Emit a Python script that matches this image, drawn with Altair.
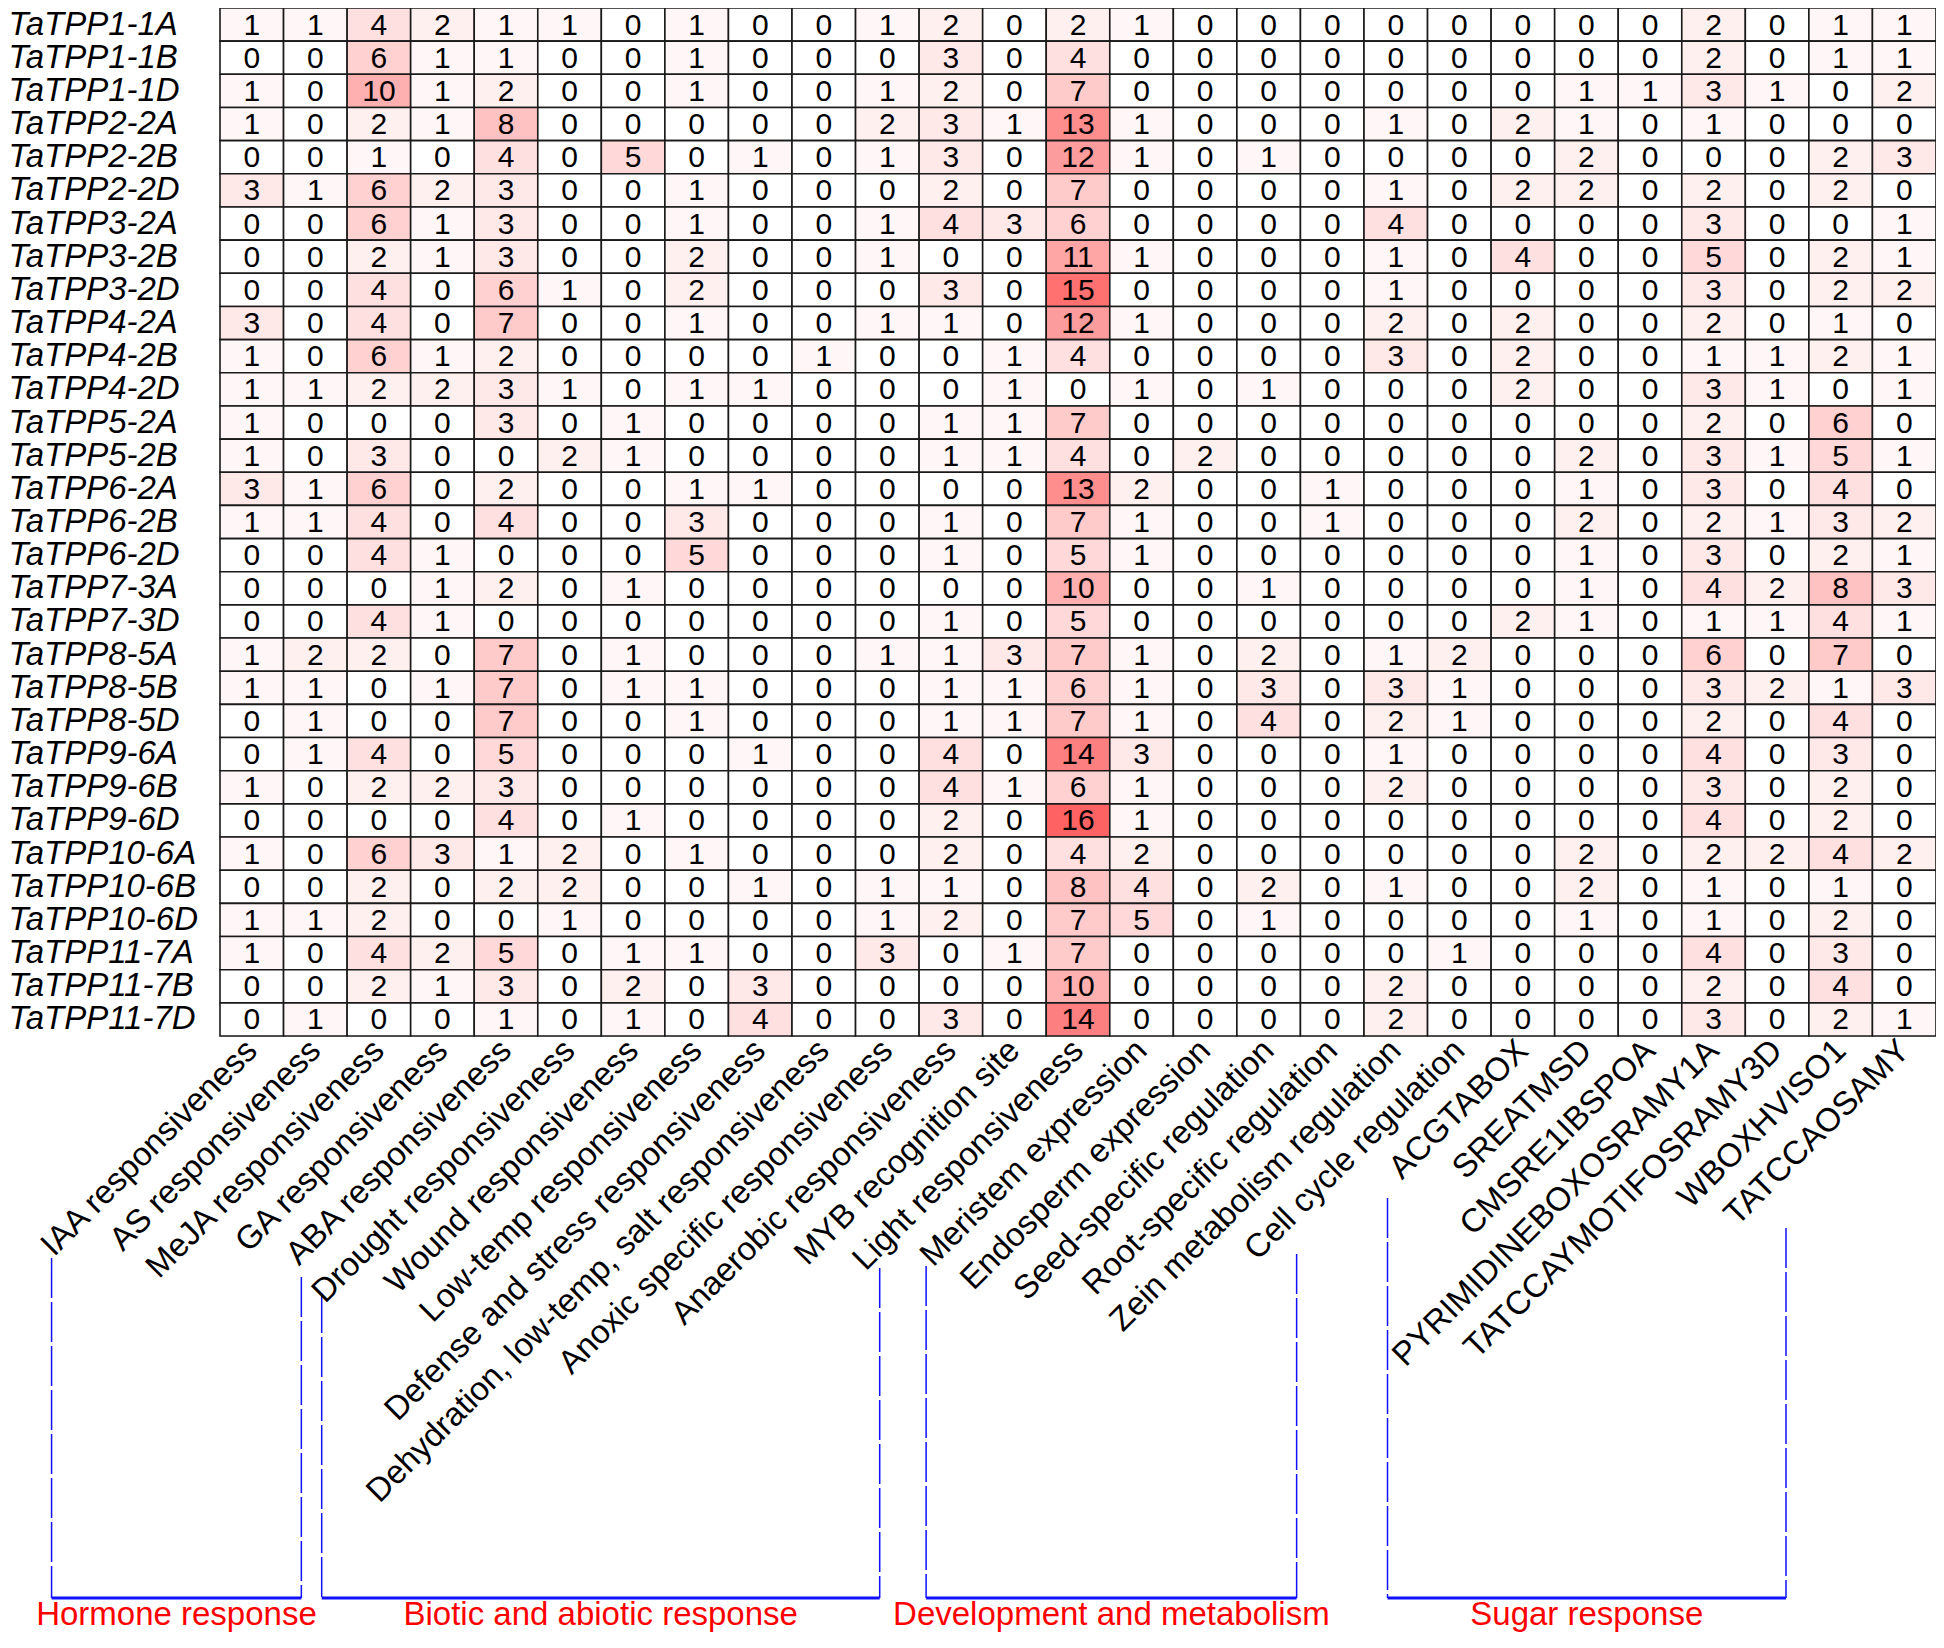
import altair as alt
import pandas as pd

# ---------------- data ----------------
ELEMENTS = [
    "IAA responsiveness", "AS responsiveness", "MeJA responsiveness", "GA responsiveness",
    "ABA responsiveness", "Drought responsiveness", "Wound responsiveness",
    "Low-temp responsiveness", "Defense and stress responsiveness",
    "Dehydration, low-temp, salt responsiveness", "Anoxic specific responsiveness",
    "Anaerobic responsiveness", "MYB recognition site", "Light responsiveness",
    "Meristem expression", "Endosperm expression", "Seed-specific regulation",
    "Root-specific regulation", "Zein metabolism regulation", "Cell cycle regulation",
    "ACGTABOX", "SREATMSD", "CMSRE1IBSPOA", "PYRIMIDINEBOXOSRAMY1A",
    "TATCCAYMOTIFOSRAMY3D", "WBOXHVISO1", "TATCCAOSAMY",
]

GENES = [
    "TaTPP1-1A", "TaTPP1-1B", "TaTPP1-1D", "TaTPP2-2A", "TaTPP2-2B", "TaTPP2-2D",
    "TaTPP3-2A", "TaTPP3-2B", "TaTPP3-2D", "TaTPP4-2A", "TaTPP4-2B", "TaTPP4-2D",
    "TaTPP5-2A", "TaTPP5-2B", "TaTPP6-2A", "TaTPP6-2B", "TaTPP6-2D", "TaTPP7-3A",
    "TaTPP7-3D", "TaTPP8-5A", "TaTPP8-5B", "TaTPP8-5D", "TaTPP9-6A", "TaTPP9-6B",
    "TaTPP9-6D", "TaTPP10-6A", "TaTPP10-6B", "TaTPP10-6D", "TaTPP11-7A",
    "TaTPP11-7B", "TaTPP11-7D",
]

TaTPP1_1A = [1, 1, 4, 2, 1, 1, 0, 1, 0, 0, 1, 2, 0, 2, 1, 0, 0, 0, 0, 0, 0, 0, 0, 2, 0, 1, 1]
TaTPP1_1B = [0, 0, 6, 1, 1, 0, 0, 1, 0, 0, 0, 3, 0, 4, 0, 0, 0, 0, 0, 0, 0, 0, 0, 2, 0, 1, 1]
TaTPP1_1D = [1, 0, 10, 1, 2, 0, 0, 1, 0, 0, 1, 2, 0, 7, 0, 0, 0, 0, 0, 0, 0, 1, 1, 3, 1, 0, 2]
TaTPP2_2A = [1, 0, 2, 1, 8, 0, 0, 0, 0, 0, 2, 3, 1, 13, 1, 0, 0, 0, 1, 0, 2, 1, 0, 1, 0, 0, 0]
TaTPP2_2B = [0, 0, 1, 0, 4, 0, 5, 0, 1, 0, 1, 3, 0, 12, 1, 0, 1, 0, 0, 0, 0, 2, 0, 0, 0, 2, 3]
TaTPP2_2D = [3, 1, 6, 2, 3, 0, 0, 1, 0, 0, 0, 2, 0, 7, 0, 0, 0, 0, 1, 0, 2, 2, 0, 2, 0, 2, 0]
TaTPP3_2A = [0, 0, 6, 1, 3, 0, 0, 1, 0, 0, 1, 4, 3, 6, 0, 0, 0, 0, 4, 0, 0, 0, 0, 3, 0, 0, 1]
TaTPP3_2B = [0, 0, 2, 1, 3, 0, 0, 2, 0, 0, 1, 0, 0, 11, 1, 0, 0, 0, 1, 0, 4, 0, 0, 5, 0, 2, 1]
TaTPP3_2D = [0, 0, 4, 0, 6, 1, 0, 2, 0, 0, 0, 3, 0, 15, 0, 0, 0, 0, 1, 0, 0, 0, 0, 3, 0, 2, 2]
TaTPP4_2A = [3, 0, 4, 0, 7, 0, 0, 1, 0, 0, 1, 1, 0, 12, 1, 0, 0, 0, 2, 0, 2, 0, 0, 2, 0, 1, 0]
TaTPP4_2B = [1, 0, 6, 1, 2, 0, 0, 0, 0, 1, 0, 0, 1, 4, 0, 0, 0, 0, 3, 0, 2, 0, 0, 1, 1, 2, 1]
TaTPP4_2D = [1, 1, 2, 2, 3, 1, 0, 1, 1, 0, 0, 0, 1, 0, 1, 0, 1, 0, 0, 0, 2, 0, 0, 3, 1, 0, 1]
TaTPP5_2A = [1, 0, 0, 0, 3, 0, 1, 0, 0, 0, 0, 1, 1, 7, 0, 0, 0, 0, 0, 0, 0, 0, 0, 2, 0, 6, 0]
TaTPP5_2B = [1, 0, 3, 0, 0, 2, 1, 0, 0, 0, 0, 1, 1, 4, 0, 2, 0, 0, 0, 0, 0, 2, 0, 3, 1, 5, 1]
TaTPP6_2A = [3, 1, 6, 0, 2, 0, 0, 1, 1, 0, 0, 0, 0, 13, 2, 0, 0, 1, 0, 0, 0, 1, 0, 3, 0, 4, 0]
TaTPP6_2B = [1, 1, 4, 0, 4, 0, 0, 3, 0, 0, 0, 1, 0, 7, 1, 0, 0, 1, 0, 0, 0, 2, 0, 2, 1, 3, 2]
TaTPP6_2D = [0, 0, 4, 1, 0, 0, 0, 5, 0, 0, 0, 1, 0, 5, 1, 0, 0, 0, 0, 0, 0, 1, 0, 3, 0, 2, 1]
TaTPP7_3A = [0, 0, 0, 1, 2, 0, 1, 0, 0, 0, 0, 0, 0, 10, 0, 0, 1, 0, 0, 0, 0, 1, 0, 4, 2, 8, 3]
TaTPP7_3D = [0, 0, 4, 1, 0, 0, 0, 0, 0, 0, 0, 1, 0, 5, 0, 0, 0, 0, 0, 0, 2, 1, 0, 1, 1, 4, 1]
TaTPP8_5A = [1, 2, 2, 0, 7, 0, 1, 0, 0, 0, 1, 1, 3, 7, 1, 0, 2, 0, 1, 2, 0, 0, 0, 6, 0, 7, 0]
TaTPP8_5B = [1, 1, 0, 1, 7, 0, 1, 1, 0, 0, 0, 1, 1, 6, 1, 0, 3, 0, 3, 1, 0, 0, 0, 3, 2, 1, 3]
TaTPP8_5D = [0, 1, 0, 0, 7, 0, 0, 1, 0, 0, 0, 1, 1, 7, 1, 0, 4, 0, 2, 1, 0, 0, 0, 2, 0, 4, 0]
TaTPP9_6A = [0, 1, 4, 0, 5, 0, 0, 0, 1, 0, 0, 4, 0, 14, 3, 0, 0, 0, 1, 0, 0, 0, 0, 4, 0, 3, 0]
TaTPP9_6B = [1, 0, 2, 2, 3, 0, 0, 0, 0, 0, 0, 4, 1, 6, 1, 0, 0, 0, 2, 0, 0, 0, 0, 3, 0, 2, 0]
TaTPP9_6D = [0, 0, 0, 0, 4, 0, 1, 0, 0, 0, 0, 2, 0, 16, 1, 0, 0, 0, 0, 0, 0, 0, 0, 4, 0, 2, 0]
TaTPP10_6A = [1, 0, 6, 3, 1, 2, 0, 1, 0, 0, 0, 2, 0, 4, 2, 0, 0, 0, 0, 0, 0, 2, 0, 2, 2, 4, 2]
TaTPP10_6B = [0, 0, 2, 0, 2, 2, 0, 0, 1, 0, 1, 1, 0, 8, 4, 0, 2, 0, 1, 0, 0, 2, 0, 1, 0, 1, 0]
TaTPP10_6D = [1, 1, 2, 0, 0, 1, 0, 0, 0, 0, 1, 2, 0, 7, 5, 0, 1, 0, 0, 0, 0, 1, 0, 1, 0, 2, 0]
TaTPP11_7A = [1, 0, 4, 2, 5, 0, 1, 1, 0, 0, 3, 0, 1, 7, 0, 0, 0, 0, 0, 1, 0, 0, 0, 4, 0, 3, 0]
TaTPP11_7B = [0, 0, 2, 1, 3, 0, 2, 0, 3, 0, 0, 0, 0, 10, 0, 0, 0, 0, 2, 0, 0, 0, 0, 2, 0, 4, 0]
TaTPP11_7D = [0, 1, 0, 0, 1, 0, 1, 0, 4, 0, 0, 3, 0, 14, 0, 0, 0, 0, 2, 0, 0, 0, 0, 3, 0, 2, 1]

ROWS = [
    TaTPP1_1A, TaTPP1_1B, TaTPP1_1D, TaTPP2_2A, TaTPP2_2B, TaTPP2_2D, TaTPP3_2A,
    TaTPP3_2B, TaTPP3_2D, TaTPP4_2A, TaTPP4_2B, TaTPP4_2D, TaTPP5_2A, TaTPP5_2B,
    TaTPP6_2A, TaTPP6_2B, TaTPP6_2D, TaTPP7_3A, TaTPP7_3D, TaTPP8_5A, TaTPP8_5B,
    TaTPP8_5D, TaTPP9_6A, TaTPP9_6B, TaTPP9_6D, TaTPP10_6A, TaTPP10_6B, TaTPP10_6D,
    TaTPP11_7A, TaTPP11_7B, TaTPP11_7D,
]

# element groups (1-based first / last column of each group)
GROUPS = ["Hormone response", "Biotic and abiotic response",
          "Development and metabolism", "Sugar response"]
GROUP_FIRST = [1, 5, 14, 21]
GROUP_LAST = [4, 13, 20, 27]

# ---------------- style / layout ----------------
FONT = "Liberation Sans, Arial, sans-serif"
W, H = 1716, 1028
NCOL = len(ELEMENTS)
BLUE = "#1010ff"
COLOR_STOPS = [0, 4, 8, 12, 16]
COLOR_RANGE = ["#ffffff", "#ffe0e0", "#ffc2c2", "#fd9c9c", "#ff6262"]
# bracket end shifts (in column widths) relative to the first / last column centre
BRACKET_SHIFT = [(-3.15, -2.22), (-2.90, -2.12), (-2.39, -2.56), (-2.13, -1.86)]
BRACKET_TOP = [(1250, 1269), (1285, 1260), (1258, 1246), (1190, 1220)]
BRACKET_BOTTOM = 1590
LABEL_Y = 1607

records = []
for gene, row in zip(GENES, ROWS):
    for el, v in zip(ELEMENTS, row):
        records.append({"gene": gene, "element": el, "count": v})
df = pd.DataFrame(records)

x_scale = alt.Scale(domain=ELEMENTS, paddingInner=0, paddingOuter=0)
y_scale = alt.Scale(domain=GENES, paddingInner=0, paddingOuter=0)
x_enc = alt.X("element:N", scale=x_scale, title=None,
              axis=alt.Axis(labelAngle=-45, labelAlign="right", labelBaseline="middle",
                            labelFontSize=33, labelFont=FONT, labelColor="black",
                            labelLimit=0, labelPadding=9, ticks=False, domain=False,
                            grid=False, labelOverlap=False))
y_enc = alt.Y("gene:N", scale=y_scale, title=None,
              axis=alt.Axis(labelAlign="left", labelBaseline="middle", labelFontSize=33,
                            labelFont=FONT, labelFontStyle="italic", labelColor="black",
                            labelLimit=0, labelPadding=212, ticks=False, tickSize=0,
                            domain=False, grid=False, labelOverlap=False))

rect = alt.Chart(df).mark_rect(stroke="#1a1a1a", strokeWidth=1.6).encode(
    x=x_enc, y=y_enc,
    color=alt.Color("count:Q", legend=None,
                    scale=alt.Scale(type="linear", domain=COLOR_STOPS, range=COLOR_RANGE,
                                    interpolate="rgb")),
)
text = alt.Chart(df).mark_text(font=FONT, fontSize=30, color="black", baseline="middle",
                               dy=1).encode(
    x=x_enc, y=y_enc, text="count:Q",
)
heat = alt.layer(rect, text)

ann_rows = []
for g, f, l, (sl, sr) in zip(GROUPS, GROUP_FIRST, GROUP_LAST, BRACKET_SHIFT):
    left = f - 0.5 + sl
    right = l - 0.5 + sr
    ann_rows.append({"group": g, "left": left, "right": right, "mid": (left + right) / 2})
ann = pd.DataFrame(ann_rows)

xs = alt.Scale(domain=[0, NCOL], nice=False, zero=False)

layers = [heat]
bottom = alt.Chart(ann).mark_rule(color=BLUE, strokeWidth=3).encode(
    x=alt.X("left:Q", scale=xs, axis=None), x2="right:Q",
    y=alt.value(BRACKET_BOTTOM))
layers.append(bottom)
for i in range(len(GROUPS)):
    sub = ann.iloc[[i]]
    top_l, top_r = BRACKET_TOP[i]
    layers.append(alt.Chart(sub).mark_rule(color=BLUE, strokeWidth=1.5,
                                           strokeDash=[40, 4]).encode(
        x=alt.X("left:Q", scale=xs, axis=None),
        y=alt.value(top_l), y2=alt.value(BRACKET_BOTTOM)))
    layers.append(alt.Chart(sub).mark_rule(color=BLUE, strokeWidth=1.5,
                                           strokeDash=[40, 4]).encode(
        x=alt.X("right:Q", scale=xs, axis=None),
        y=alt.value(top_r), y2=alt.value(BRACKET_BOTTOM)))
labels = alt.Chart(ann).mark_text(color="#ff0000", font=FONT, fontSize=33,
                                  baseline="middle", align="center").encode(
    x=alt.X("mid:Q", scale=xs, axis=None), y=alt.value(LABEL_Y), text="group:N")
layers.append(labels)

chart = alt.layer(*layers).resolve_scale(x="independent").properties(
    width=W, height=H,
    autosize=alt.AutoSizeParams(type="none"),
    padding={"left": 212, "top": 0, "right": 0, "bottom": 596},
).configure_view(stroke=None).configure(background="white")

chart.save("out.html", embed_options={"renderer": "svg", "actions": False})
